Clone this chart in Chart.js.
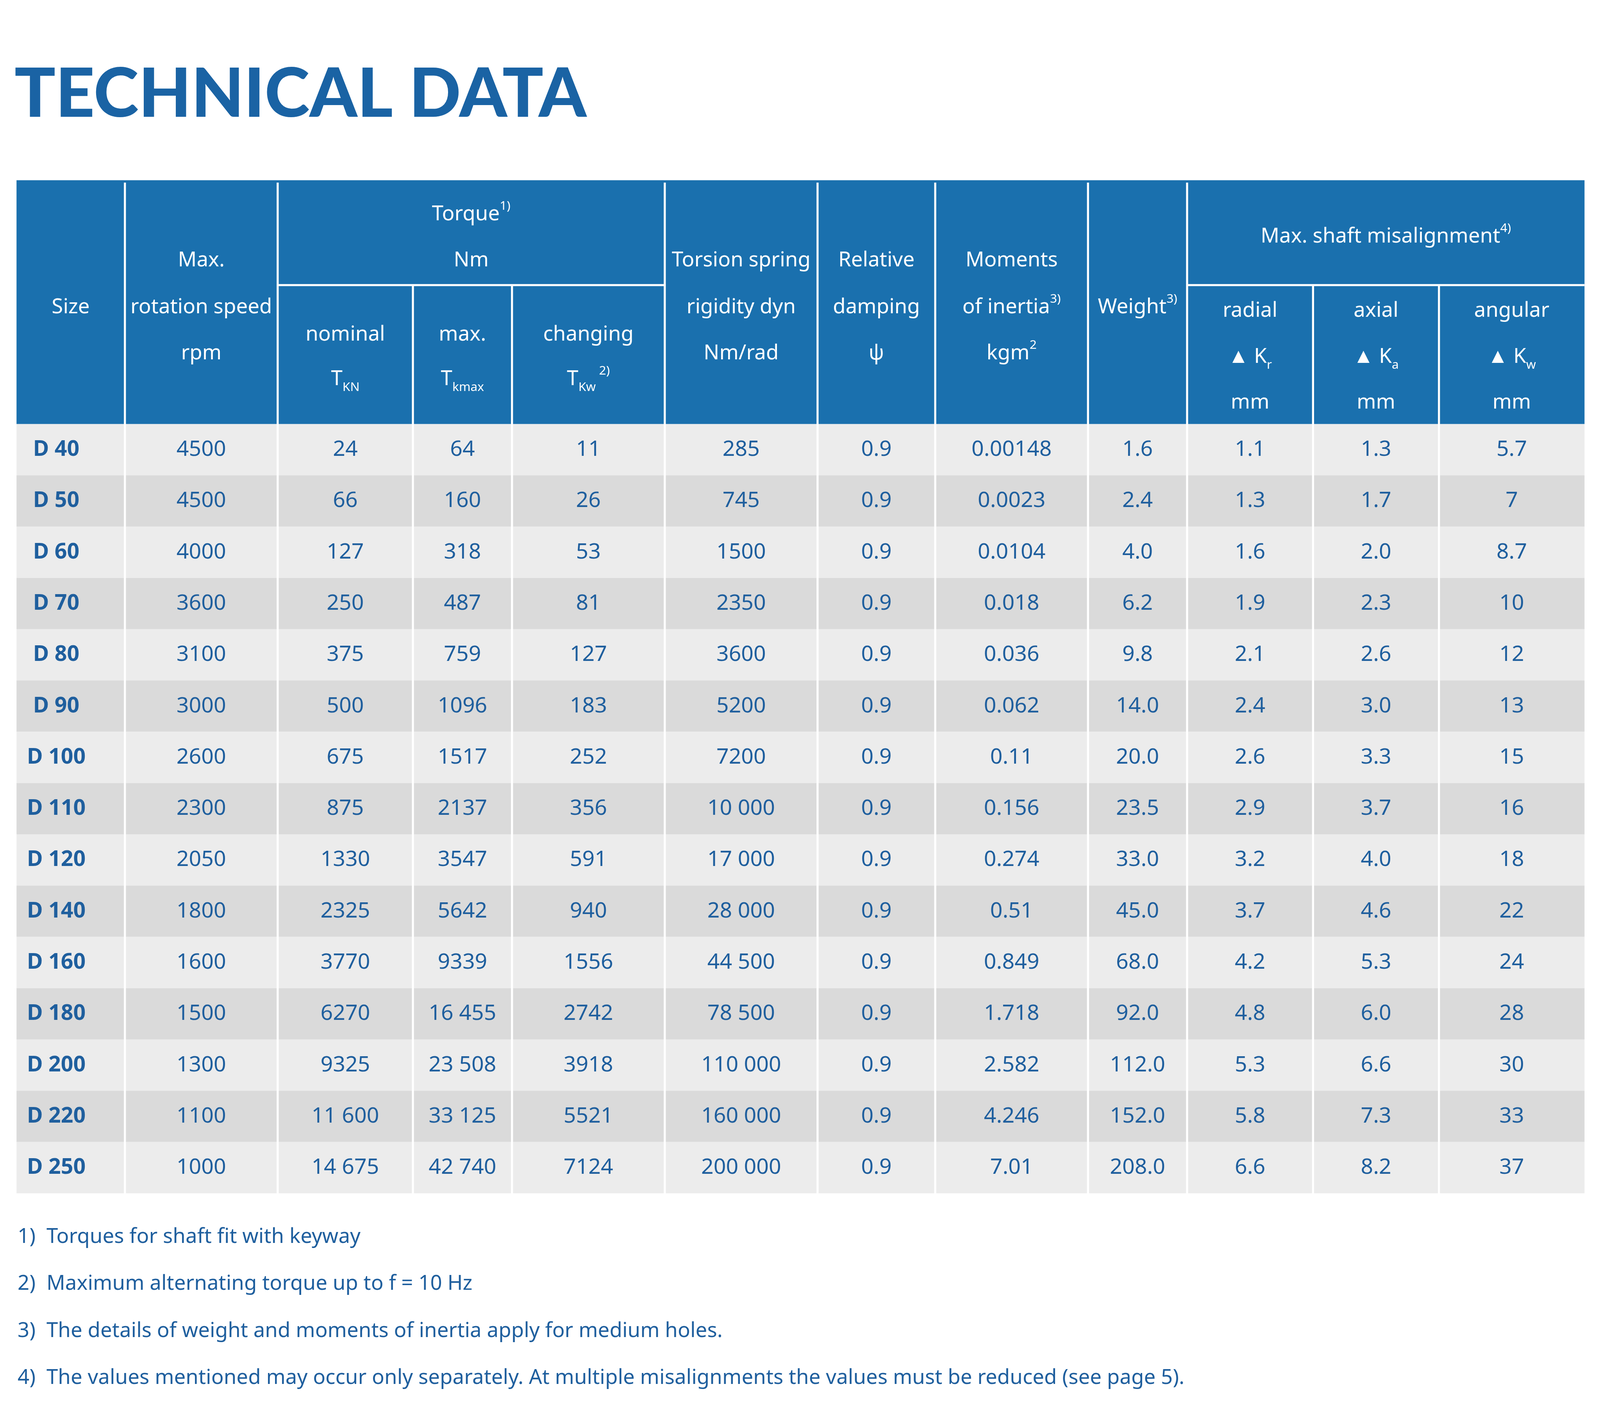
<!DOCTYPE html>
<html><head><meta charset="utf-8">
<script src="https://cdn.jsdelivr.net/npm/chart.js@4"></script>
<style>html,body{margin:0;padding:0;background:#fff;overflow:hidden}#wrap{position:relative;width:100vw;height:100vh}</style>
</head><body>
<div id="wrap"><canvas id="tbl"></canvas></div>
<script>
const sizes = ['D 40','D 50','D 60','D 70','D 80','D 90','D 100','D 110','D 120','D 140','D 160','D 180','D 200','D 220','D 250'];
const maxSpeed = ['4500','4500','4000','3600','3100','3000','2600','2300','2050','1800','1600','1500','1300','1100','1000'];
const torqueNominal = ['24','66','127','250','375','500','675','875','1330','2325','3770','6270','9325','11 600','14 675'];
const torqueMax = ['64','160','318','487','759','1096','1517','2137','3547','5642','9339','16 455','23 508','33 125','42 740'];
const torqueChanging = ['11','26','53','81','127','183','252','356','591','940','1556','2742','3918','5521','7124'];
const springRigidity = ['285','745','1500','2350','3600','5200','7200','10 000','17 000','28 000','44 500','78 500','110 000','160 000','200 000'];
const damping = ['0.9','0.9','0.9','0.9','0.9','0.9','0.9','0.9','0.9','0.9','0.9','0.9','0.9','0.9','0.9'];
const inertia = ['0.00148','0.0023','0.0104','0.018','0.036','0.062','0.11','0.156','0.274','0.51','0.849','1.718','2.582','4.246','7.01'];
const weight = ['1.6','2.4','4.0','6.2','9.8','14.0','20.0','23.5','33.0','45.0','68.0','92.0','112.0','152.0','208.0'];
const radial = ['1.1','1.3','1.6','1.9','2.1','2.4','2.6','2.9','3.2','3.7','4.2','4.8','5.3','5.8','6.6'];
const axial = ['1.3','1.7','2.0','2.3','2.6','3.0','3.3','3.7','4.0','4.6','5.3','6.0','6.6','7.3','8.2'];
const angular = ['5.7','7','8.7','10','12','13','15','16','18','22','24','28','30','33','37'];
const footnotes = ['Torques for shaft fit with keyway','Maximum alternating torque up to f = 10 Hz','The details of weight and moments of inertia apply for medium holes.','The values mentioned may occur only separately. At multiple misalignments the values must be reduced (see page 5).'];

const columns = [sizes,maxSpeed,torqueNominal,torqueMax,torqueChanging,springRigidity,damping,inertia,weight,radial,axial,angular];
const colEdges = [16,121,269,400,496,644,792,906,1054,1150,1272,1394,1535];
const BLUE = '#1f5f9e', HEAD = '#1a70ae';
const FONT = '"Noto Sans", sans-serif';

const headers = [
  [0, [[261, [['Size','n']]]]],
  [1, [[221, [['Max.','n']]], [261, [['rotation speed','n']]], [300, [['rpm','n']]]]],
  [2, [[284, [['nominal','n']]], [322, [['T','n'],['KN','sub']]]]],
  [3, [[284, [['max.','n']]], [322, [['T','n'],['kmax','sub']]]]],
  [4, [[284, [['changing','n']]], [322, [['T','n'],['Kw','sub'],[' 2)','sup']]]]],
  [5, [[221, [['Torsion spring','n']]], [261, [['rigidity dyn','n']]], [300, [['Nm/rad','n']]]]],
  [6, [[221, [['Relative','n']]], [261, [['damping','n']]], [300, [['ψ','n']]]]],
  [7, [[221, [['Moments','n']]], [261, [['of inertia','n'],['3)','sup']]], [300, [['kgm','n'],['2','sup']]]]],
  [8, [[261, [['Weight','n'],['3)','sup']]]]],
  [9, [[264, [['radial','n']]], [303, [['▲ K','n'],['r','sub']]], [342, [['mm','n']]]]],
  [10, [[264, [['axial','n']]], [303, [['▲ K','n'],['a','sub']]], [342, [['mm','n']]]]],
  [11, [[264, [['angular','n']]], [303, [['▲ K','n'],['w','sub']]], [342, [['mm','n']]]]]
];

const tablePlugin = {
  id: 'tablePlugin',
  afterDraw(chart) {
    const ctx = chart.ctx, xs = chart.scales.x, ys = chart.scales.y;
    const X = v => xs.getPixelForValue(v), Y = v => ys.getPixelForValue(v);
    const S = X(1) - X(0);
    const font = (sz, w) => (w || 'normal') + ' ' + (sz * S) + 'px ' + FONT;
    function rich(parts, cx, y, sz, color, align) {
      const mf = m => m === 'n' ? sz : sz * 0.6;
      let w = 0;
      parts.forEach(p => { ctx.font = font(mf(p[1])); w += ctx.measureText(p[0]).width; });
      let x = align === 'left' ? X(cx) : X(cx) - w / 2;
      ctx.fillStyle = color; ctx.textBaseline = 'middle'; ctx.textAlign = 'left';
      parts.forEach(p => {
        ctx.font = font(mf(p[1]));
        const dy = p[1] === 'sub' ? sz * 0.35 : p[1] === 'sup' ? -sz * 0.35 : 0;
        ctx.fillText(p[0], x, Y(y + dy));
        x += ctx.measureText(p[0]).width;
      });
    }
    ctx.save();
    ctx.fillStyle = '#1a63a4'; ctx.font = '900 ' + (66 * S) + 'px Lato, sans-serif';
    ctx.textBaseline = 'alphabetic'; ctx.textAlign = 'left';
    ctx.fillText('TECHNICAL DATA', X(14), Y(99));
    const L = colEdges[0], R = colEdges[colEdges.length - 1];
    ctx.fillStyle = HEAD; ctx.fillRect(X(L), Y(153), X(R) - X(L), Y(360) - Y(153));
    const top = 360, rh = (1013 - 360) / sizes.length;
    sizes.forEach((s, i) => {
      ctx.fillStyle = i % 2 ? '#dadada' : '#ececec';
      ctx.fillRect(X(L), Y(top + i * rh), X(R) - X(L), Y(top + (i + 1) * rh) - Y(top + i * rh));
    });
    ctx.strokeStyle = '#ffffff'; ctx.lineWidth = 2 * S;
    colEdges.slice(1, -1).forEach((e, k) => {
      const idx = k + 1;
      const y0 = (idx === 3 || idx === 4 || idx === 10 || idx === 11) ? 242 : 155;
      ctx.beginPath(); ctx.moveTo(X(e), Y(y0)); ctx.lineTo(X(e), Y(1013)); ctx.stroke();
    });
    [[269, 644], [1150, 1535]].forEach(g => {
      ctx.beginPath(); ctx.moveTo(X(g[0]), Y(242)); ctx.lineTo(X(g[1]), Y(242)); ctx.stroke();
    });
    rich([['Torque', 'n'], ['1)', 'sup']], (269 + 644) / 2, 182, 20, '#fff');
    rich([['Nm', 'n']], (269 + 644) / 2, 221, 20, '#fff');
    rich([['Max. shaft misalignment', 'n'], ['4)', 'sup']], (1150 + 1535) / 2, 201, 20, '#fff');
    headers.forEach(h => {
      const cx = (colEdges[h[0]] + colEdges[h[0] + 1]) / 2;
      h[1].forEach(line => rich(line[1], cx, line[0], 20, '#fff'));
    });
    columns.forEach((col, c) => {
      const cx = (colEdges[c] + colEdges[c + 1]) / 2;
      col.forEach((v, i) => {
        const y = top + (i + 0.5) * rh;
        if (c === 0) {
          ctx.font = font(21, 'bold'); ctx.fillStyle = BLUE; ctx.textAlign = 'center'; ctx.textBaseline = 'middle';
          ctx.fillText(v, X(cx - 14), Y(y));
        } else rich([[v, 'n']], cx, y, 21, BLUE);
      });
    });
    footnotes.forEach((f, i) => {
      const y = 1050 + i * 40;
      rich([[(i + 1) + ')', 'n']], 17, y, 20, BLUE, 'left');
      rich([[f, 'n']], 45, y, 20, BLUE, 'left');
    });
    ctx.restore();
  }
};

new Chart(document.getElementById('tbl'), {
  type: 'scatter',
  data: { datasets: [{ data: [] }] },
  options: {
    responsive: true, maintainAspectRatio: false, animation: false,
    layout: { padding: 0 },
    plugins: { legend: { display: false }, tooltip: { enabled: false } },
    scales: {
      x: { type: 'linear', min: 0, max: 1550, display: false },
      y: { type: 'linear', min: 0, max: 1208, reverse: true, display: false }
    }
  },
  plugins: [tablePlugin]
});
</script>
</body></html>
